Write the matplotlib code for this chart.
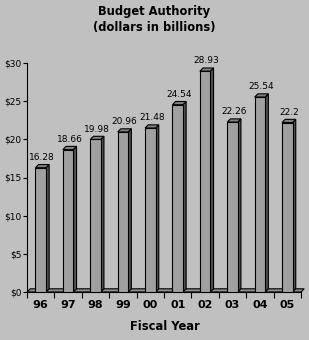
import matplotlib
matplotlib.use("Agg")
import matplotlib.pyplot as plt
from matplotlib.patches import Polygon
import numpy as np

years = ["96", "97", "98", "99", "00", "01", "02", "03", "04", "05"]
values = [16.28, 18.66, 19.98, 20.96, 21.48, 24.54, 28.93, 22.26, 25.54, 22.2]
value_labels = ["16.28", "18.66", "19.98", "20.96", "21.48", "24.54", "28.93", "22.26", "25.54", "22.2"]
yticks = [0, 5, 10, 15, 20, 25, 30]
ytick_labels = ["$0", "$5", "$10", "$15", "$20", "$25", "$30"]

W, H = 309, 340
bg = "#c0c0c0"
fig = plt.figure(figsize=(W / 100, H / 100), dpi=100, facecolor=bg)
left, right, top, bottom = 27, 301, 63, 292
ax = fig.add_axes([left / W, 1 - bottom / H, (right - left) / W, (bottom - top) / H])
ax.set_facecolor(bg)
n = len(years)
ax.set_xlim(-0.5, n - 0.5)
ax.set_ylim(0, 30)

pxx = (right - left) / n          # px per x unit
pxy = (bottom - top) / 30.0       # px per y unit
dx = 3.2 / pxx
dy = 3.2 / pxy
bw = 10.5 / pxx

# floor
floor = Polygon([(-0.5, 0), (n - 0.5, 0), (n - 0.5 + dx, dy), (-0.5 + dx, dy)],
                closed=True, facecolor="#8c8c8c", edgecolor="black", lw=0.8,
                clip_on=False, zorder=1)
ax.add_patch(floor)

x = np.arange(n)
for xi, v, lab in zip(x, values, value_labels):
    x0 = xi - bw / 2
    x1 = xi + bw / 2
    side = Polygon([(x1, 0), (x1 + dx, dy), (x1 + dx, v + dy), (x1, v)],
                   closed=True, facecolor="#505050", edgecolor="black", lw=0.8, zorder=2)
    topf = Polygon([(x0, v), (x0 + dx, v + dy), (x1 + dx, v + dy), (x1, v)],
                   closed=True, facecolor="#808080", edgecolor="black", lw=0.8, zorder=2)
    ax.add_patch(side)
    ax.add_patch(topf)
    ax.text(xi + dx / 2, v + dy + 0.35, lab, ha="center", va="bottom",
            fontsize=6.5, color="black", zorder=4)
ax.bar(x, values, width=bw, color="#a0a0a0", edgecolor="black", lw=0.8, zorder=3)

for s in ["top", "right"]:
    ax.spines[s].set_visible(False)
ax.spines["left"].set_linewidth(0.8)
ax.spines["bottom"].set_linewidth(0.8)

ax.set_yticks(yticks)
ax.set_yticklabels(ytick_labels, fontsize=6.5)
ax.tick_params(axis="y", length=3, width=0.8, pad=1)
ax.set_xticks(np.arange(-0.5, n + 0.5, 1.0))
ax.set_xticklabels([])
ax.set_xticks(x, minor=True)
ax.set_xticklabels(years, minor=True, fontsize=8, fontweight="bold")
ax.tick_params(axis="x", which="major", length=4, width=0.8)
ax.tick_params(axis="x", which="minor", length=0, pad=6)

fig.text(154 / W, 1 - 11 / H, "Budget Authority", ha="center", va="center",
         fontsize=8.3, fontweight="bold")
fig.text(154 / W, 1 - 28 / H, "(dollars in billions)", ha="center", va="center",
         fontsize=8.3, fontweight="bold")
fig.text(165 / W, 1 - 327 / H, "Fiscal Year", ha="center", va="center",
         fontsize=8.3, fontweight="bold")

fig.savefig("out.png", dpi=100, facecolor=bg)
